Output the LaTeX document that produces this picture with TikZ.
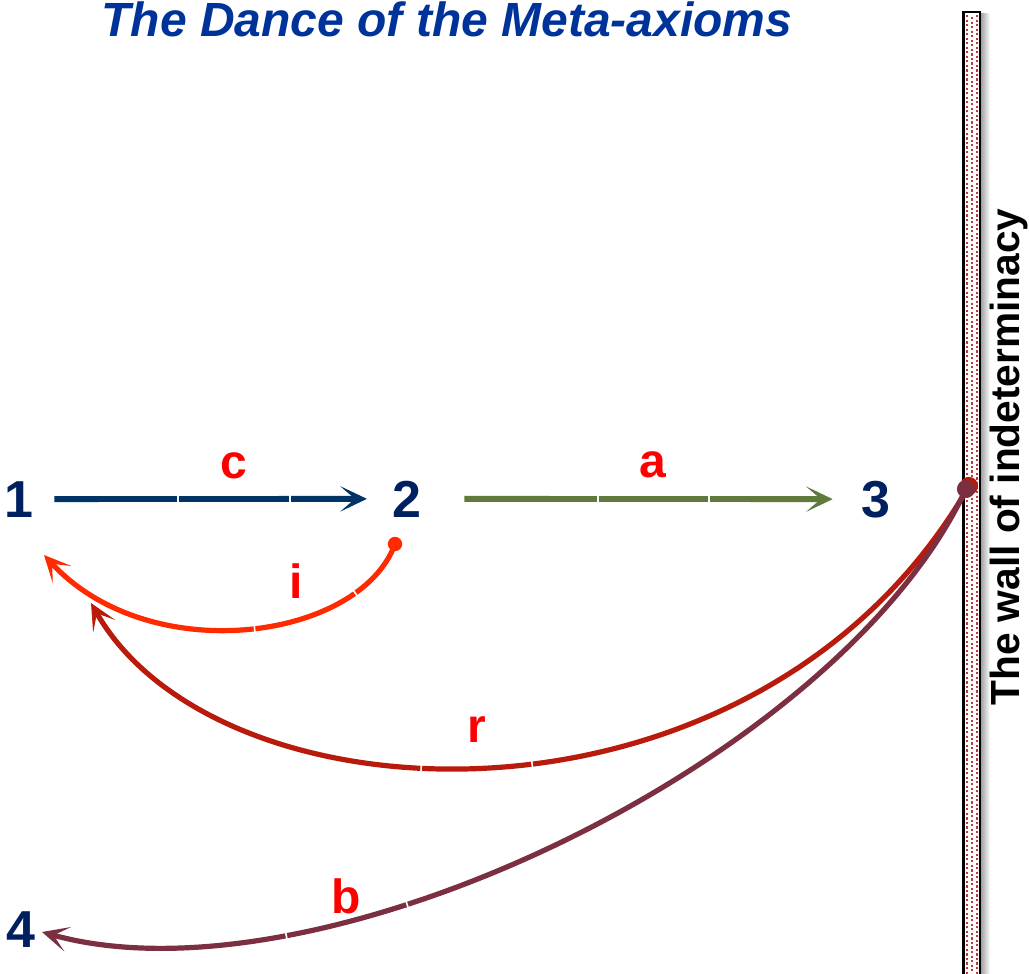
\documentclass[tikz,border=0pt]{standalone}
\usepackage{fontspec}
\setmainfont{Liberation Sans}
\usetikzlibrary{arrows.meta}
\definecolor{titleblue}{HTML}{003399}
\definecolor{numblue}{HTML}{002060}
\definecolor{cblue}{HTML}{003366}
\definecolor{aolive}{HTML}{5F7A3A}
\definecolor{ired}{HTML}{FF2A00}
\definecolor{rred}{HTML}{B81A0C}
\definecolor{bmaroon}{HTML}{7B2F40}
\definecolor{lblred}{HTML}{FF0000}
\definecolor{walldot}{HTML}{B83C3C}
\begin{document}
\begin{tikzpicture}[x=0.75pt,y=-0.75pt,
  num/.style={font=\bfseries\fontsize{39}{40}\selectfont, text=numblue, inner sep=0pt, anchor=base},
  lbl/.style={font=\bfseries\fontsize{36}{38}\selectfont, text=lblred, inner sep=0pt, anchor=base},
  conn/.style={line width=3.9pt, -{Stealth[length=20pt,width=19pt,inset=11pt]}},
  gapmark/.style={fill=white, inner sep=0pt, minimum width=1.2pt, minimum height=9pt, sloped},
  ]
\useasboundingbox (0,0) rectangle (1029,974);
% wall
\shade[left color=black!40, right color=white] (980,14) rectangle (990,980);
\filldraw[fill=white, draw=black, line width=1.6pt] (963.5,12) rectangle (980,985);
\foreach \xx/\ph in {966.7/0, 971.8/1.8, 976.8/0}{
  \draw[walldot, line width=1.6pt, dash pattern=on 1.6pt off 1.8pt, dash phase=\ph pt] (\xx,15) -- (\xx,980);
}
\node[rotate=90, anchor=base, font=\bfseries\fontsize{30.5}{32}\selectfont, inner sep=0pt] (walltext) at (1019,457) {The wall of indeterminacy};
% title
\node[font=\bfseries\itshape\fontsize{36}{40}\selectfont, text=titleblue, anchor=base, inner sep=0pt] (title) at (447,37) {The Dance of the Meta-axioms};
% numbers
\node[num] (n1) at (19,517) {1};
\node[num] (n2) at (407,517) {2};
\node[num] (n3) at (876,517) {3};
\node[num] (n4) at (21,947) {4};
% labels
\node[lbl] (lc) at (234,478) {c};
\node[lbl] (la) at (653,477) {a};
\node[lbl] (li) at (296,598) {i};
\node[lbl] (lr) at (477,742) {r};
\node[lbl] (lb) at (346,913) {b};
% straight connectors
\draw[conn, cblue, line width=4.4pt, shorten <=15.4pt, shorten >=19pt] (n1.east) -- (n2.west);
\draw[conn, aolive, line width=4.4pt, shorten <=32pt, shorten >=21.4pt] (n2.east) -- (n3.west);
\fill[white] (177.4,493) rectangle (178.6,504);
\fill[white] (289.4,493) rectangle (290.6,504);
\fill[white] (597.4,493) rectangle (598.6,504);
\fill[white] (708.4,493) rectangle (709.6,504);
% curved connectors
\coordinate (idot) at (395,544);
\coordinate (wdot) at (966,489);
\coordinate (rdot) at (969,486);
\coordinate (itip) at (44,555);
\coordinate (rtip) at (91,603);
\coordinate (btip) at (42,932);
\draw[conn, ired] (idot) .. controls (360,640) and (150,670) .. (itip);
\draw[conn, rred] (rdot) .. controls (760,850) and (220,830) .. (rtip);
\draw[conn, bmaroon] (wdot) .. controls (840,760) and (320,1010) .. (btip);
\path (idot) .. controls (360,640) and (150,670) .. (itip)
  node[gapmark, pos=0.2] (gi1) {} node[gapmark, pos=0.48] (gi2) {};
\path (rdot) .. controls (760,850) and (220,830) .. (rtip)
  node[gapmark, pos=0.47] (gr1) {} node[gapmark, pos=0.575] (gr2) {};
\path (wdot) .. controls (840,760) and (320,1010) .. (btip)
  node[gapmark, pos=0.64] (gb1) {} node[gapmark, pos=0.75] (gb2) {};
\fill[ired] (idot) circle[radius=5.4pt];
\fill[rred] (rdot) circle[radius=6.8pt];
\fill[bmaroon] (wdot) circle[radius=6.8pt];
\end{tikzpicture}
\end{document}
